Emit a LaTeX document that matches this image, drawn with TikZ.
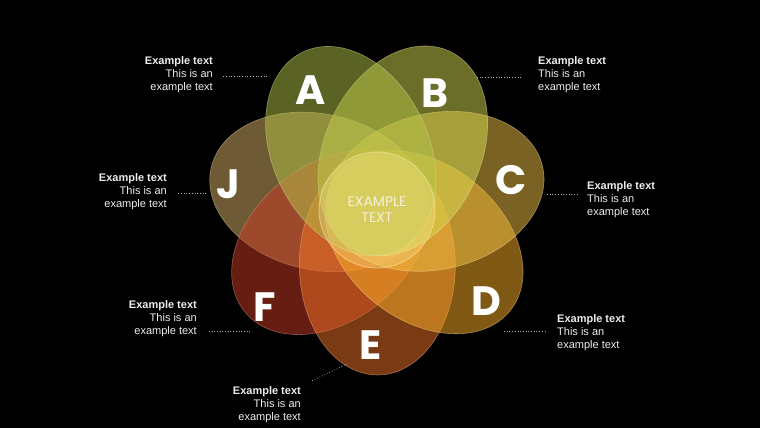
\documentclass[tikz,border=0pt]{standalone}
\usepackage{fontspec}
\setmainfont{Liberation Sans}
\newfontfamily\petalfont{Poppins}
\definecolor{petalA}{HTML}{B4C448}
\definecolor{petalB}{HTML}{D4DC50}
\definecolor{petalC}{HTML}{F4C448}
\definecolor{petalD}{HTML}{FFB428}
\definecolor{petalE}{HTML}{F47428}
\definecolor{petalF}{HTML}{CC3C26}
\definecolor{petalJ}{HTML}{DCB468}
\definecolor{hubfill}{HTML}{FFF0A8}
\definecolor{hubtext}{HTML}{F6F0D8}
\tikzset{
  petal/.style={fill=#1,fill opacity=.5,draw=#1!55!white,draw opacity=.5,line width=.6pt},
  petalletter/.style={text=white,inner sep=0pt,font=\petalfont\bfseries\fontsize{41}{41}\selectfont},
  hub/.style={circle,minimum size=116pt,inner sep=0pt,fill=hubfill,fill opacity=.25,
    draw=hubfill,draw opacity=.55,line width=.8pt,text opacity=1,text=hubtext,align=center,
    font=\petalfont\fontsize{14}{17}\selectfont},
  sidelabel/.style={text=white!93!black,inner sep=0pt,font=\fontsize{11}{13}\selectfont},
  leader/.style={draw=white!70!black,dotted,line width=.7pt},
}

\begin{document}
\begin{tikzpicture}[x=1pt,y=1pt]
\fill[black] (0,0) rectangle (760,428);
\coordinate (fc) at (377,223);
%%%%%%%%%%%%%%%%%%%% the seven petals %%%%%%%%%%%%%%%%%%%%
\foreach \p/\ang in {J/167.43,F/218.86,E/270.29,D/321.71,C/13.14,B/64.57,A/116}{
  \begin{scope}[shift={(fc)},rotate=\ang]
    \draw[petal=petal\p] (60,0) ellipse [x radius=110,y radius=78];
  \end{scope}
}
\node[hub] (hub) at (377,218) {EXAMPLE\\[-1pt]TEXT};
\node[petalletter] (letA) at (311,338) {A};
\node[petalletter] (letB) at (435,335) {B};
\node[petalletter] (letC) at (511,248) {C};
\node[petalletter] (letD) at (486,127) {D};
\node[petalletter] (letE) at (371,83)  {E};
\node[petalletter] (letF) at (265,121) {F};
\node[petalletter] (letJ) at (228,244) {J};
%%%%%%%%%%%%%%%%%%%% side labels %%%%%%%%%%%%%%%%%%%%
\node[sidelabel,align=right,anchor=north east] (labA) at (213,372) {\textbf{Example text}\\This is an\\example text};
\node[sidelabel,align=left,anchor=north west]  (labB) at (538,372) {\textbf{Example text}\\This is an\\example text};
\node[sidelabel,align=left,anchor=north west]  (labC) at (587,247) {\textbf{Example text}\\This is an\\example text};
\node[sidelabel,align=left,anchor=north west]  (labD) at (557,114) {\textbf{Example text}\\This is an\\example text};
\node[sidelabel,align=right,anchor=north east] (labE) at (301,42)  {\textbf{Example text}\\This is an\\example text};
\node[sidelabel,align=right,anchor=north east] (labF) at (197,128) {\textbf{Example text}\\This is an\\example text};
\node[sidelabel,align=right,anchor=north east] (labJ) at (167,255) {\textbf{Example text}\\This is an\\example text};
\coordinate (tipA) at (267,352);
\coordinate (tipB) at (477,351);
\coordinate (tipC) at (547,234);
\coordinate (tipD) at (504,97);
\coordinate (tipE) at (347,64);
\coordinate (tipF) at (250,97);
\coordinate (tipJ) at (206,235);
\draw[leader,shorten >=10pt] (tipA) -- (labA.east |- tipA);
\draw[leader,shorten >=16pt] (tipB) -- (labB.west |- tipB);
\draw[leader,shorten >=9pt]  (tipC) -- (labC.west |- tipC);
\draw[leader,shorten >=10pt] (tipD) -- (labD.west |- tipD);
\draw[leader,shorten >=12pt] (tipE) -- (labE.north east);
\draw[leader,shorten >=10pt] (tipF) -- (labF.east |- tipF);
\draw[leader,shorten >=11pt] (tipJ) -- (labJ.east |- tipJ);
\end{tikzpicture}
\end{document}
